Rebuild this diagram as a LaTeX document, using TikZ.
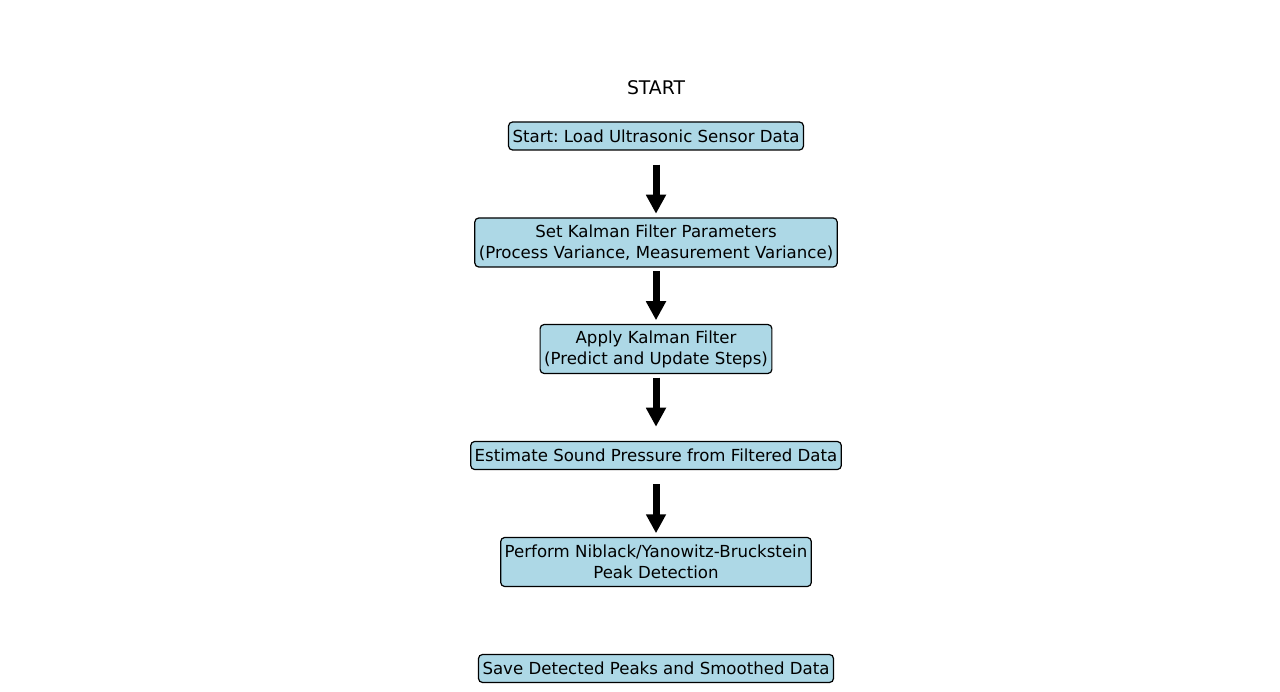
\documentclass[tikz,border=0pt]{standalone}
\usepackage{fontspec}
\setmainfont{DejaVu Sans}
\usepackage{tikz}
\usetikzlibrary{arrows.meta, calc}
\frenchspacing
\definecolor{stepblue}{RGB}{173, 216, 230}
\newcommand{\boxfont}{\fontsize{16.6}{21}\selectfont}
\newcommand{\titlefont}{\fontsize{18.8}{22}\selectfont}
\tikzset{
  stepbox/.style={rectangle, rounded corners=4pt, draw=black, line width=1.2pt, fill=stepblue, font=\boxfont, align=center, inner xsep=4pt, inner ysep=0pt, minimum height=28pt},
  stepboxtwo/.style={stepbox, minimum height=49pt},
  flowarrow/.style={line width=7pt, -{Triangle[length=19pt, width=19pt]}}
}

\begin{document}
\begin{tikzpicture}[x=1pt, y=-1pt]
        \useasboundingbox (0,0) rectangle (1280,692);

        % 1. Titulo
        \node[font=\titlefont] (title) at (656, 88) {START};

        % 2. Pasos del proceso
        \node[stepbox] (load) at (656, 136) {Start: Load Ultrasonic Sensor Data};
        \node[stepboxtwo] (params) at (656, 242.5) {Set Kalman Filter Parameters\\(Process Variance, Measurement Variance)};
        \node[stepboxtwo] (kalman) at (656, 349) {Apply Kalman Filter\\(Predict and Update Steps)};
        \node[stepbox] (estimate) at (656, 455.5) {Estimate Sound Pressure from Filtered Data};
        \node[stepboxtwo] (peaks) at (656, 562) {Perform Niblack/Yanowitz-Bruckstein\\Peak Detection};
        \node[stepbox] (save) at (656, 668.5) {Save Detected Peaks and Smoothed Data};

        % 3. Flechas entre pasos
        \draw[flowarrow] ($(load)!0.5!(params)+(0,-24.5)$) -- ($(load)!0.5!(params)+(0,24.5)$);
        \draw[flowarrow] ($(params)!0.5!(kalman)+(0,-24.5)$) -- ($(params)!0.5!(kalman)+(0,24.5)$);
        \draw[flowarrow] ($(kalman)!0.5!(estimate)+(0,-24.5)$) -- ($(kalman)!0.5!(estimate)+(0,24.5)$);
        \draw[flowarrow] ($(estimate)!0.5!(peaks)+(0,-24.5)$) -- ($(estimate)!0.5!(peaks)+(0,24.5)$);

\end{tikzpicture}
\end{document}
